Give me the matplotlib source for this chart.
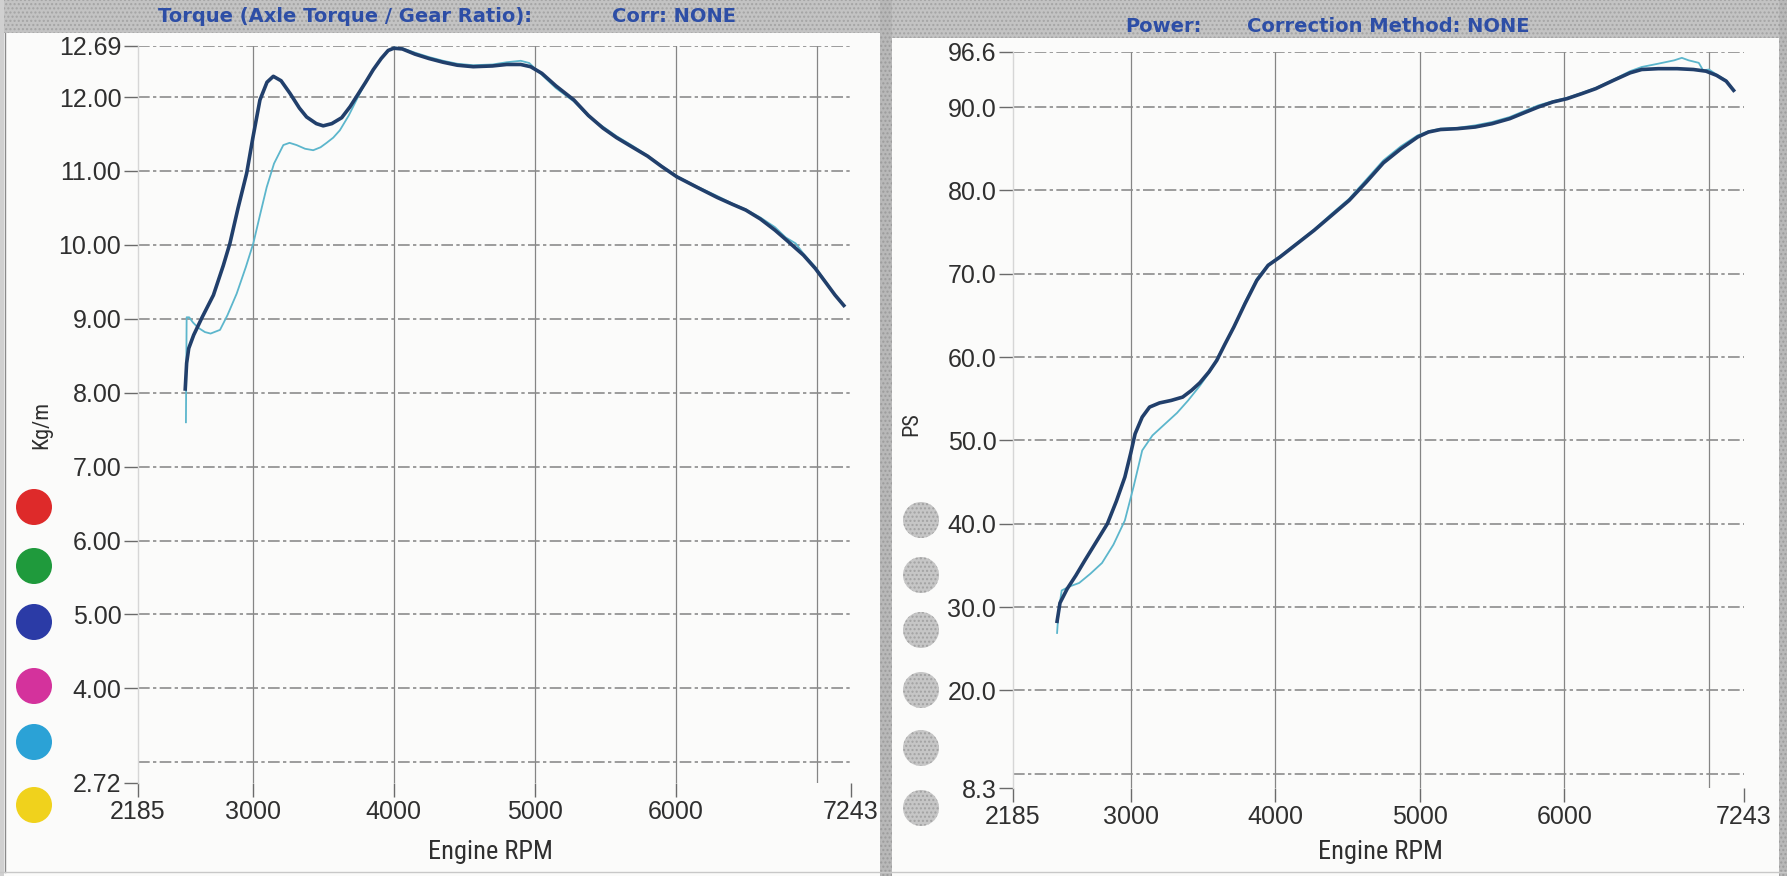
import matplotlib
matplotlib.use("Agg")
import matplotlib.pyplot as plt
from matplotlib import font_manager as fm
from matplotlib.patches import Circle, Rectangle

plt.rcParams.update({
    "font.family": ["Liberation Sans", "DejaVu Sans"],
    "figure.dpi": 100,
    "hatch.linewidth": 1.0,
})

W, H = 1787, 876
DARK, CYAN = "#213f6b", "#5cb6cc"
TITLE_BLUE = "#2d4ea6"
TICK_COL = "#2f2f2f"

# ---- torque panel (Kg/m) ----
torque_rpm = [2520, 2530, 2545, 2580, 2640, 2720, 2790, 2837, 2895, 2956, 3000, 3050,
              3100, 3145, 3200, 3263, 3330, 3381, 3450, 3499, 3560, 3630, 3690, 3740,
              3800, 3854, 3910, 3960, 4000, 4060, 4150, 4250, 4350, 4450, 4563, 4700,
              4800, 4900, 4970, 5050, 5150, 5277, 5380, 5483, 5580, 5685, 5800, 5900,
              6008, 6150, 6295, 6400, 6497, 6600, 6703, 6800, 6906, 6990, 7068, 7130, 7192]
torque_dark = [8.05, 8.40, 8.60, 8.78, 9.02, 9.32, 9.72, 10.02, 10.50, 10.97, 11.45, 11.96,
               12.20, 12.28, 12.22, 12.05, 11.85, 11.73, 11.64, 11.61, 11.64, 11.72, 11.87, 12.02,
               12.20, 12.37, 12.52, 12.63, 12.66, 12.65, 12.58, 12.52, 12.47, 12.43, 12.41, 12.42,
               12.44, 12.44, 12.41, 12.32, 12.15, 11.96, 11.75, 11.58, 11.45, 11.33, 11.20, 11.06,
               10.92, 10.78, 10.64, 10.55, 10.47, 10.35, 10.20, 10.04, 9.86, 9.68, 9.48, 9.32, 9.18]

torque_rpm_b = [2525, 2530, 2548, 2575, 2611, 2660, 2700, 2767, 2820, 2885, 2950, 3003,
                3050, 3098, 3150, 3216, 3260, 3310, 3370, 3428, 3480, 3523, 3570, 3617,
                3680, 3735, 3800, 3854, 3910, 3960, 4000, 4060, 4150, 4250, 4350, 4450,
                4563, 4700, 4800, 4900, 4960, 5050, 5150, 5277, 5380, 5483, 5580, 5685,
                5800, 5900, 6008, 6150, 6295, 6400, 6497, 6600, 6703, 6780, 6850, 6906,
                6990, 7068, 7130, 7192]
torque_cyan = [7.60, 9.02, 9.02, 8.95, 8.88, 8.82, 8.80, 8.85, 9.05, 9.34, 9.70, 10.02,
               10.40, 10.78, 11.10, 11.35, 11.38, 11.35, 11.30, 11.28, 11.32, 11.38, 11.45, 11.55,
               11.75, 11.96, 12.20, 12.37, 12.52, 12.63, 12.67, 12.66, 12.60, 12.54, 12.49, 12.45,
               12.43, 12.44, 12.47, 12.49, 12.46, 12.30, 12.12, 11.94, 11.74, 11.60, 11.47, 11.35,
               11.21, 11.07, 10.93, 10.79, 10.66, 10.56, 10.48, 10.37, 10.24, 10.10, 10.02, 9.88,
               9.70, 9.49, 9.32, 9.18]

torque_ticks = [2.72, 4.00, 5.00, 6.00, 7.00, 8.00, 9.00, 10.00, 11.00, 12.00, 12.69]
torque_grid = [3, 4, 5, 6, 7, 8, 9, 10, 11, 12, 12.69]

# ---- power panel (PS) ----
power_rpm = [2490, 2510, 2560, 2620, 2682, 2760, 2838, 2900, 2959, 3000, 3030, 3079,
             3130, 3199, 3280, 3359, 3420, 3477, 3540, 3595, 3650, 3713, 3790, 3872,
             3950, 4032, 4150, 4268, 4390, 4511, 4630, 4748, 4870, 4985, 5060, 5143,
             5260, 5383, 5500, 5622, 5720, 5820, 5920, 6018, 6120, 6217, 6340, 6455,
             6535, 6650, 6780, 6893, 6980, 7053, 7120, 7171]
power_dark = [28.3, 30.5, 32.2, 33.8, 35.6, 37.8, 40.0, 42.7, 45.6, 48.5, 50.8, 52.8,
              54.0, 54.5, 54.8, 55.2, 56.0, 56.9, 58.2, 59.6, 61.5, 63.6, 66.4, 69.2,
              71.0, 72.0, 73.6, 75.2, 77.0, 78.8, 81.0, 83.3, 85.0, 86.4, 87.0, 87.3,
              87.4, 87.6, 88.0, 88.6, 89.3, 90.0, 90.6, 91.0, 91.6, 92.2, 93.2, 94.1,
              94.5, 94.6, 94.6, 94.5, 94.3, 93.8, 93.1, 92.0]

power_rpm_b = [2490, 2500, 2522, 2580, 2643, 2720, 2801, 2880, 2959, 3020, 3079, 3150,
               3238, 3320, 3397, 3480, 3553, 3620, 3713, 3790, 3872, 3950, 4032, 4150,
               4268, 4390, 4511, 4630, 4748, 4870, 4985, 5060, 5143, 5260, 5383, 5500,
               5622, 5720, 5820, 5920, 6018, 6120, 6217, 6340, 6455, 6535, 6650, 6760,
               6813, 6860, 6930, 6960, 7000, 7053, 7120, 7171]
power_cyan = [26.9, 29.5, 32.0, 32.5, 32.9, 34.0, 35.3, 37.5, 40.4, 44.5, 48.8, 50.6,
              52.0, 53.3, 54.8, 56.6, 58.4, 60.6, 63.6, 66.6, 69.4, 71.1, 72.1, 73.7,
              75.3, 77.2, 79.0, 81.3, 83.6, 85.3, 86.6, 87.1, 87.4, 87.5, 87.8, 88.2,
              88.8, 89.5, 90.2, 90.7, 91.1, 91.7, 92.3, 93.3, 94.3, 94.8, 95.2, 95.6,
              95.9, 95.6, 95.3, 94.4, 94.5, 93.9, 93.2, 92.0]

power_ticks = [8.3, 20.0, 30.0, 40.0, 50.0, 60.0, 70.0, 80.0, 90.0, 96.6]
power_grid = [10, 20, 30, 40, 50, 60, 70, 80, 90, 96.6]

rpm_ticks = [2185, 3000, 4000, 5000, 6000, 7243]
rpm_grid = [3000, 4000, 5000, 6000, 7000]

legend_left = ["#de2a2a", "#1f9a3c", "#2b3ba6", "#d4329c", "#2ba2d6", "#f0d21c"]


def narrow_font():
    """pick a condensed sans if one is installed, else plain Liberation Sans."""
    for fam in ("Liberation Sans Narrow", "Roboto Condensed", "Noto Sans Condensed",
                "Open Sans Condensed"):
        try:
            fm.findfont(fm.FontProperties(family=fam), fallback_to_default=False)
            return {"family": fam}, 1.0
        except ValueError:
            pass
    for fam in ("Noto Sans", "DejaVu Sans", "Open Sans"):
        try:
            p = fm.findfont(fm.FontProperties(family=fam, stretch="condensed"),
                            fallback_to_default=False)
        except ValueError:
            continue
        if "ondensed" in p or "arrow" in p:
            return {"family": fam, "fontstretch": "condensed"}, 1.0
    return {"family": "Liberation Sans"}, 0.84


NARROW_KW, NARROW_SCALE = narrow_font()


def px_rect(x0, y0, x1, y1):
    """figure-fraction box from pixel edges (y measured from top)."""
    return [x0 / W, 1 - y1 / H, (x1 - x0) / W, (y1 - y0) / H]


fig = plt.figure(figsize=(W / 100, H / 100), dpi=100, facecolor="#fbfbfa")

# scanned-sheet background, drawn in pixel coordinates
bg = fig.add_axes([0, 0, 1, 1], zorder=0)
bg.set_xlim(0, W)
bg.set_ylim(H, 0)
bg.axis("off")
for x0, x1, h in [(0, 885, 33), (885, W, 38)]:
    bg.add_patch(Rectangle((x0, 0), x1 - x0, h, facecolor="#c3c3c3",
                           edgecolor="#a4a4a4", hatch="....", lw=0))
bg.add_patch(Rectangle((880, 0), 12, H, facecolor="#b8b8b8", edgecolor="#9c9c9c",
                       hatch="....", lw=0))
bg.add_patch(Rectangle((1779, 0), 8, H, facecolor="#b8b8b8", edgecolor="#9c9c9c",
                       hatch="....", lw=0))
bg.add_patch(Rectangle((0, 0), 4, H, color="#d0d0d0", lw=0))
bg.plot([5, 5], [33, 872], color="#8a8a8a", lw=1)
bg.plot([0, W], [872, 872], color="#c8c8c8", lw=1)

title_kw = dict(color=TITLE_BLUE, fontsize=14, fontweight="bold", ha="left", va="center",
                family=["DejaVu Sans"])
bg.text(158, 17, "Torque (Axle Torque / Gear Ratio):", **title_kw)
bg.text(612, 17, "Corr: NONE", **title_kw)
bg.text(1125, 26, "Power:", **title_kw)
bg.text(1247, 26, "Correction Method: NONE", **title_kw)

for yc, col in zip([507, 566, 622, 686, 742, 805], legend_left):
    bg.add_patch(Circle((34, yc), 18, facecolor=col, edgecolor="none"))
for yc in [520, 575, 630, 690, 748, 808]:
    bg.add_patch(Circle((921, yc), 18, facecolor="#c6c6c6", edgecolor="#a2a2a2",
                        hatch="....", lw=0))

lab_kw = dict(color=TICK_COL, ha="center", va="center", **NARROW_KW)
bg.text(42, 425, "Kg/m", rotation=90, fontsize=16 * NARROW_SCALE, **lab_kw)
bg.text(912, 424, "PS", rotation=90, fontsize=16 * NARROW_SCALE, **lab_kw)
bg.text(490, 852, "Engine RPM", fontsize=19 * NARROW_SCALE, **lab_kw)
bg.text(1380, 852, "Engine RPM", fontsize=19 * NARROW_SCALE, **lab_kw)


def style_axes(ax, yticks, ygrid, ylim):
    ax.set_facecolor("none")
    ax.set_xlim(2185, 7243)
    ax.set_ylim(*ylim)
    for s in ("top", "right", "bottom"):
        ax.spines[s].set_visible(False)
    ax.spines["left"].set_color("#d6d6d6")
    ax.spines["left"].set_linewidth(1)
    ax.set_xticks(rpm_ticks)
    ax.set_xticklabels([str(t) for t in rpm_ticks])
    ax.set_yticks(yticks)
    ax.tick_params(axis="both", which="major", labelsize=18, labelcolor=TICK_COL,
                   color="#6a6a6a", length=10, width=1, pad=2)
    for gx in rpm_grid:
        ax.axvline(gx, color="#858585", lw=0.9, zorder=1)
    for gy in ygrid:
        ax.axhline(gy, color="#8c8c8c", lw=1.2, ls=(0, (7, 2, 2, 2)), zorder=1)


ax1 = fig.add_axes(px_rect(138, 46, 851, 783), zorder=2)
style_axes(ax1, torque_ticks, torque_grid, (2.72, 12.69))
ax1.set_yticklabels([f"{t:.2f}" for t in torque_ticks])
ax1.plot(torque_rpm_b, torque_cyan, color=CYAN, lw=1.3, zorder=3)
ax1.plot(torque_rpm, torque_dark, color=DARK, lw=2.6, zorder=4)

ax2 = fig.add_axes(px_rect(1013, 52, 1744, 788), zorder=2)
style_axes(ax2, power_ticks, power_grid, (8.3, 96.6))
ax2.set_yticklabels([f"{t:.1f}" for t in power_ticks])
ax2.plot(power_rpm_b, power_cyan, color=CYAN, lw=1.3, zorder=3)
ax2.plot(power_rpm, power_dark, color=DARK, lw=2.6, zorder=4)

fig.savefig("out.png", dpi=100, facecolor=fig.get_facecolor())
